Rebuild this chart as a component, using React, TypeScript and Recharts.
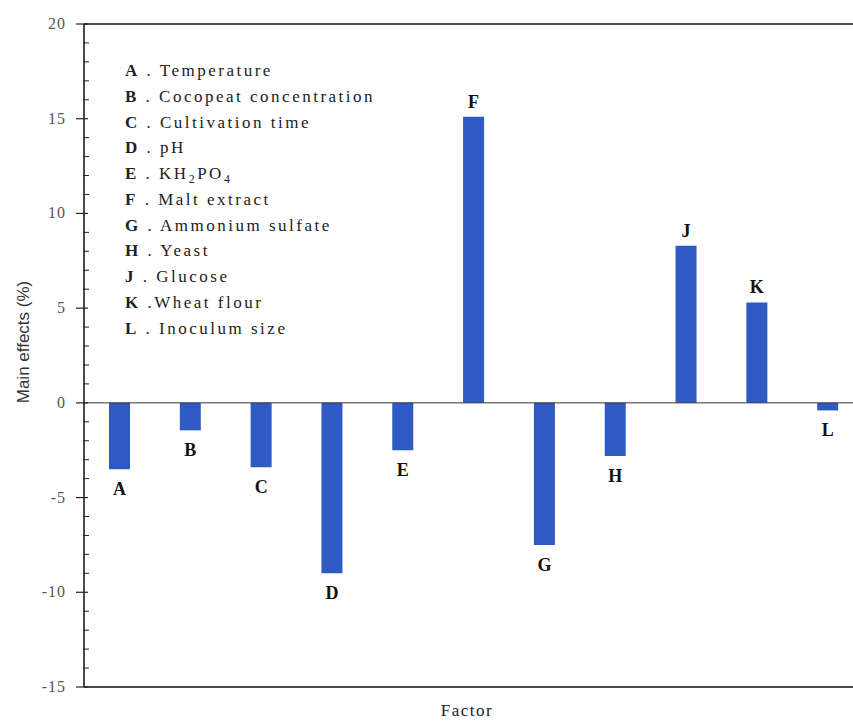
import React from 'react';
import {
  BarChart,
  Bar,
  XAxis,
  YAxis,
  ReferenceLine,
  LabelList,
  Customized,
} from 'recharts';

// factor codes and their main effects (%)
const factors = ['A', 'B', 'C', 'D', 'E', 'F', 'G', 'H', 'J', 'K', 'L'];
const effects = [-3.5, -1.45, -3.4, -9.0, -2.5, 15.1, -7.5, -2.8, 8.3, 5.3, -0.4];

const factorNames = [
  'Temperature',
  'Cocopeat concentration',
  'Cultivation time',
  'pH',
  'KH2PO4',
  'Malt extract',
  'Ammonium sulfate',
  'Yeast',
  'Glucose',
  'Wheat flour',
  'Inoculum size',
];
const separators = [' . ', ' . ', ' . ', ' . ', ' . ', ' . ', ' . ', ' . ', ' . ', ' .', ' . '];

const yTicks = [-15, -10, -5, 0, 5, 10, 15, 20];
const yMinorTicks = Array.from({ length: 36 }, (_, i) => i - 15);

const data = factors.map((f, i) => ({ factor: f, effect: effects[i] }));

const AXIS_X = 84;
const BAR_COLOR = '#2f5ac4';
const SERIF = '"Liberation Serif", "Times New Roman", serif';

const YTick = (props: any) => {
  const v = props.payload.value;
  const y = props.payload.coordinate ?? props.y;
  const major = yTicks.includes(v);
  if (!major) {
    return <line x1={AXIS_X - 1} x2={AXIS_X + 5} y1={y} y2={y} stroke="#222" strokeWidth={1} />;
  }
  return (
    <g>
      <line x1={AXIS_X - 8} x2={AXIS_X + 4} y1={y} y2={y} stroke="#222" strokeWidth={1.2} />
      <text
        x={AXIS_X - 18}
        y={y + 5}
        textAnchor="end"
        fontFamily={SERIF}
        fontSize={16}
        letterSpacing={1}
        fill="#555"
      >
        {v}
      </text>
    </g>
  );
};

const BarLabel = (props: any) => {
  const { x, y, width, height, index } = props;
  const v = effects[index];
  const top = Math.min(y, y + height);
  const bottom = Math.max(y, y + height);
  const ty = v >= 0 ? top - 9 : bottom + 26;
  return (
    <text
      x={x + width / 2}
      y={ty}
      textAnchor="middle"
      fontFamily={SERIF}
      fontWeight="bold"
      fontSize={18}
      fill="#111"
    >
      {factors[index]}
    </text>
  );
};

// digits in chemical formulas are drawn as subscripts
const renderName = (name: string) =>
  name.split(/(\d)/).filter(Boolean).map((part, i) =>
    /\d/.test(part) ? (
      <tspan key={i} fontSize={12} dy={4}>{part}</tspan>
    ) : (
      <tspan key={i} dy={i > 0 ? -4 : 0}>{part}</tspan>
    )
  );

const Annotations = () => (
  <g>
    {factors.map((f, i) => (
      <text
        key={f}
        x={125}
        y={76 + i * 25.75}
        fontFamily={SERIF}
        fontSize={17}
        letterSpacing={2.5}
        fill="#222"
      >
        <tspan fontWeight="bold">{f}</tspan>
        <tspan>{separators[i]}</tspan>
        {renderName(factorNames[i])}
      </text>
    ))}
    <text
      x={467}
      y={716}
      textAnchor="middle"
      fontFamily={SERIF}
      fontSize={17}
      letterSpacing={1.5}
      fill="#222"
    >
      Factor
    </text>
    <text
      x={29}
      y={342}
      textAnchor="middle"
      transform="rotate(-90 29 342)"
      fontFamily='"Liberation Sans", Arial, sans-serif'
      fontSize={17}
      fill="#333"
    >
      Main effects (%)
    </text>
  </g>
);

export default function App() {
  return (
    <div
      style={{
        position: 'absolute',
        left: 0,
        top: 0,
        width: 853,
        height: 722,
        overflow: 'hidden',
        background: '#fff',
      }}
    >
      <BarChart
        width={863}
        height={722}
        data={data}
        margin={{ top: 24, right: 0, bottom: 5, left: 0 }}
        barSize={21}
      >
        <XAxis
          dataKey="factor"
          height={30}
          tick={false}
          tickLine={false}
          axisLine={{ stroke: '#111', strokeWidth: 1.5 }}
        />
        <YAxis
          type="number"
          domain={[-15, 20]}
          ticks={yMinorTicks}
          interval={0}
          width={84}
          tickSize={0}
          tickLine={false}
          allowDataOverflow
          axisLine={{ stroke: '#111', strokeWidth: 1.5 }}
          tick={<YTick />}
        />
        <ReferenceLine y={20} stroke="#111" strokeWidth={1.5} />
        <ReferenceLine y={0} stroke="#333" strokeWidth={1} />
        <Bar dataKey="effect" fill={BAR_COLOR} isAnimationActive={false}>
          <LabelList dataKey="effect" content={<BarLabel />} />
        </Bar>
        <Customized component={Annotations} />
      </BarChart>
    </div>
  );
}
